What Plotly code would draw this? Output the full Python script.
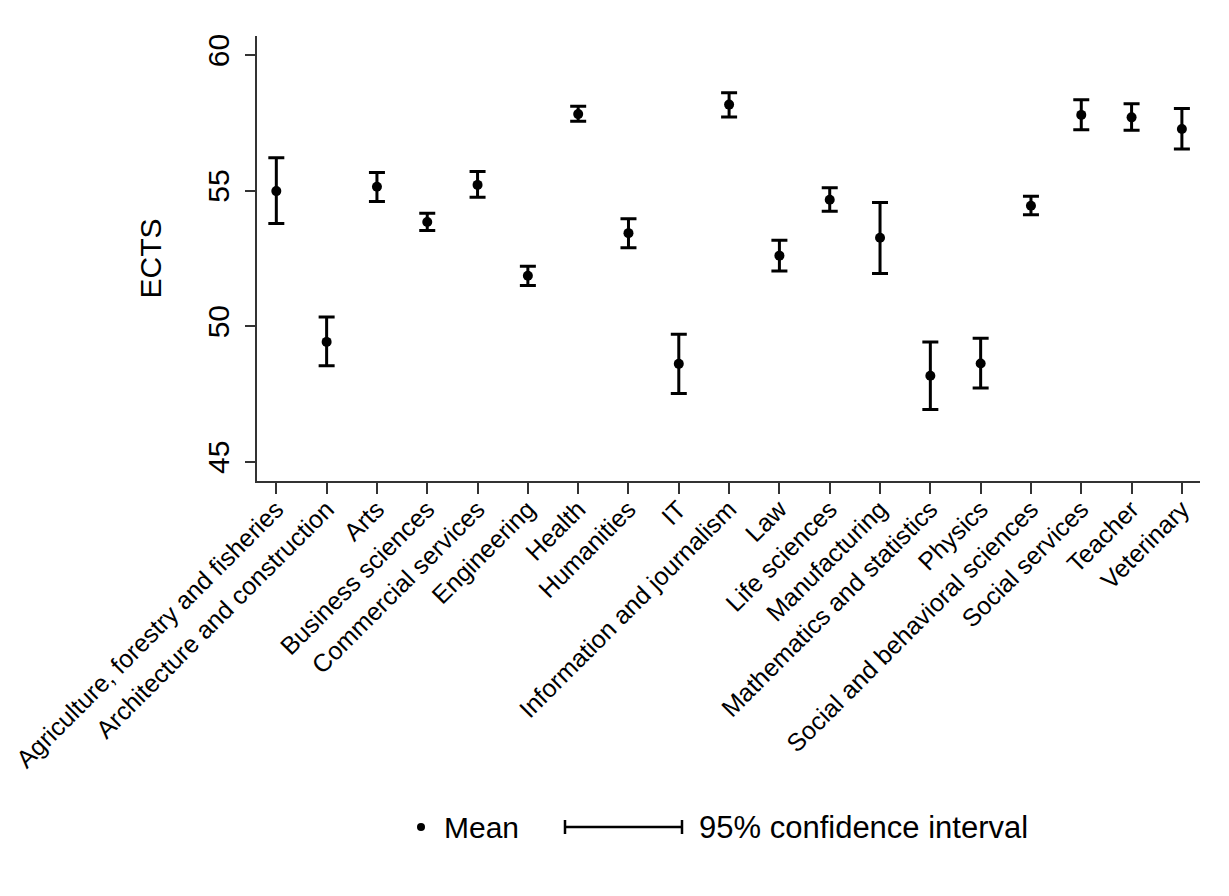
import plotly.graph_objects as go

categories = [
    "Agriculture, forestry and fisheries", "Architecture and construction", "Arts",
    "Business sciences", "Commercial services", "Engineering", "Health", "Humanities",
    "IT", "Information and journalism", "Law", "Life sciences", "Manufacturing",
    "Mathematics and statistics", "Physics", "Social and behavioral sciences",
    "Social services", "Teacher", "Veterinary",
]
mean_ects = [54.98, 49.42, 55.14, 53.84, 55.21, 51.86, 57.82, 53.43, 48.61, 58.17,
             52.60, 54.66, 53.26, 48.17, 48.62, 54.44, 57.79, 57.70, 57.27]
ci_upper = [56.21, 50.34, 55.67, 54.16, 55.70, 52.21, 58.11, 53.96, 49.70, 58.61,
            53.17, 55.10, 54.56, 49.42, 49.55, 54.79, 58.35, 58.20, 58.03]
ci_lower = [53.79, 48.54, 54.60, 53.53, 54.75, 51.50, 57.56, 52.89, 47.52, 57.71,
            52.03, 54.24, 51.94, 46.93, 47.72, 54.11, 57.24, 57.22, 56.53]
y_ticks = [45, 50, 55, 60]
legend_labels = ["Mean", "95% confidence interval"]

FONT = "Liberation Sans, Arial, sans-serif"
OFF = 8  # page body margin
W, H = 1229, 896
ML, MT = 257 - OFF, 36 - OFF
MR = W - (1200 - OFF)
MB = H - (481 - OFF)
PW, PH = W - ML - MR, H - MT - MB


def px_x(px):
    return (px - OFF - ML) / PW


def px_y(py):
    return (H - MB - (py - OFF)) / PH


fig = go.Figure()
fig.add_trace(go.Scatter(
    x=categories, y=mean_ects, mode="markers",
    marker=dict(size=10, color="black"),
    error_y=dict(type="data", symmetric=False,
                 array=[u - m for u, m in zip(ci_upper, mean_ects)],
                 arrayminus=[m - l for m, l in zip(mean_ects, ci_lower)],
                 color="black", thickness=3, width=8),
    showlegend=False,
))

# legend (drawn manually to mimic the Stata legend)
ly = 827
fig.add_shape(type="circle", xref="paper", yref="paper",
              x0=px_x(421 - 4), x1=px_x(421 + 4), y0=px_y(ly + 4), y1=px_y(ly - 4),
              fillcolor="black", line=dict(color="black", width=0))
fig.add_shape(type="line", xref="paper", yref="paper",
              x0=px_x(565), x1=px_x(682), y0=px_y(ly), y1=px_y(ly),
              line=dict(color="black", width=2.5))
for xc in (565, 682):
    fig.add_shape(type="line", xref="paper", yref="paper",
                  x0=px_x(xc), x1=px_x(xc), y0=px_y(ly - 7), y1=px_y(ly + 7),
                  line=dict(color="black", width=2.5))
fig.add_annotation(text=legend_labels[0], xref="paper", yref="paper",
                   x=px_x(442), y=px_y(ly), xanchor="left", yanchor="middle",
                   showarrow=False, font=dict(family=FONT, size=30, color="black"))
fig.add_annotation(text=legend_labels[1], xref="paper", yref="paper",
                   x=px_x(697), y=px_y(ly), xanchor="left", yanchor="middle",
                   showarrow=False, font=dict(family=FONT, size=31, color="black"))

fig.update_layout(
    width=W, height=H,
    margin=dict(l=ML, r=MR, t=MT, b=MB),
    paper_bgcolor="white", plot_bgcolor="white",
    font=dict(family=FONT, color="black"),
    xaxis=dict(
        type="category", range=[-0.384, 18.36], automargin=False,
        showline=True, linecolor="#333333", linewidth=1.5,
        ticks="outside", ticklen=11, tickwidth=1.5, tickcolor="#333333",
        tickangle=-45, tickfont=dict(family=FONT, size=25, color="black"),
        ticklabelstandoff=-9,
        showgrid=False, zeroline=False,
    ),
    yaxis=dict(
        range=[44.29, 60.70], automargin=False,
        tickvals=y_ticks, ticktext=[str(v) for v in y_ticks],
        showline=True, linecolor="#333333", linewidth=1.5,
        ticks="outside", ticklen=10, tickwidth=1.5, tickcolor="#333333",
        tickangle=-90, tickfont=dict(family=FONT, size=30, color="black"),
        ticklabelstandoff=4,
        showgrid=False, zeroline=False,
        title=dict(text="ECTS", font=dict(family=FONT, size=30, color="black"), standoff=32),
    ),
)

fig.write_html("out.html")
